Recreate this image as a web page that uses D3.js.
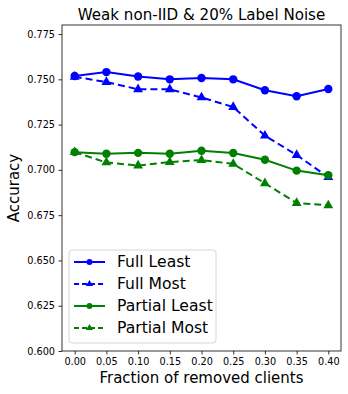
<!DOCTYPE html>
<html>
<head>
<meta charset="utf-8">
<script src="https://cdn.jsdelivr.net/npm/d3@7"></script>
<style>
  html, body { margin: 0; padding: 0; background: #fff; }
  svg { display: block; font-family: "DejaVu Sans", sans-serif; }
</style>
</head>
<body>
<svg id="chart" width="348" height="394"></svg>
<script>
// --- DATA --------------------------------------------------------------------
const fractions     = [0.00, 0.05, 0.10, 0.15, 0.20, 0.25, 0.30, 0.35, 0.40];
const fullLeast     = [0.7518, 0.7540, 0.7516, 0.7500, 0.7507, 0.7500, 0.7440, 0.7407, 0.7447];
const fullMost      = [0.7514, 0.7485, 0.7445, 0.7445, 0.7400, 0.7347, 0.7189, 0.7082, 0.6960];
const partialLeast  = [0.7098, 0.7089, 0.7094, 0.7089, 0.7106, 0.7093, 0.7056, 0.6996, 0.6970];
const partialMost   = [0.7098, 0.7041, 0.7024, 0.7043, 0.7054, 0.7033, 0.6926, 0.6817, 0.6804];
const xTicks = [0.00, 0.05, 0.10, 0.15, 0.20, 0.25, 0.30, 0.35, 0.40];
const yTicks = [0.600, 0.625, 0.650, 0.675, 0.700, 0.725, 0.750, 0.775];

const series = [
  { name: 'Full Least',    values: fullLeast,    color: '#0000ff', dash: null,  marker: 'circle' },
  { name: 'Full Most',     values: fullMost,     color: '#0000ff', dash: '7,4', marker: 'triangle' },
  { name: 'Partial Least', values: partialLeast, color: '#008000', dash: null,  marker: 'circle' },
  { name: 'Partial Most',  values: partialMost,  color: '#008000', dash: '7,4', marker: 'triangle' },
];

// --- LAYOUT ------------------------------------------------------------------
const M = { left: 62, right: 341, top: 25, bottom: 351 };
const svg = d3.select('#chart');

const x = d3.scaleLinear().domain([-0.02, 0.42]).range([M.left, M.right]);
const y = d3.scaleLinear().domain([0.6, 0.78]).range([M.bottom, M.top]);

// axes
const xAxis = svg.append('g').attr('transform', `translate(0,${M.bottom})`)
  .call(d3.axisBottom(x).tickValues(xTicks).tickFormat(d3.format('.2f')).tickSize(3.5).tickPadding(3.5));
const yAxis = svg.append('g').attr('transform', `translate(${M.left},0)`)
  .call(d3.axisLeft(y).tickValues(yTicks).tickFormat(d3.format('.3f')).tickSize(3.5).tickPadding(3.5));
[xAxis, yAxis].forEach(a => {
  a.select('.domain').remove();
  a.selectAll('line').attr('stroke', '#000').attr('stroke-width', 0.8);
  a.selectAll('text').attr('font-size', '9.7px').attr('fill', '#000')
    .attr('font-family', '"DejaVu Sans", sans-serif');
});

// frame
svg.append('rect')
  .attr('x', M.left).attr('y', M.top)
  .attr('width', M.right - M.left).attr('height', M.bottom - M.top)
  .attr('fill', 'none').attr('stroke', '#000').attr('stroke-width', 0.8);

// --- SERIES ------------------------------------------------------------------
const line = d3.line().x((d, i) => x(fractions[i])).y(d => y(d));
const tri = d3.symbol().type(d3.symbolTriangle).size(42);
const triSmall = d3.symbol().type(d3.symbolTriangle).size(22);

series.forEach(s => {
  const g = svg.append('g');
  g.append('path')
    .attr('d', line(s.values))
    .attr('fill', 'none').attr('stroke', s.color).attr('stroke-width', 2)
    .attr('stroke-dasharray', s.dash);
  const pts = g.selectAll('.pt').data(s.values).join('g')
    .attr('transform', (d, i) => `translate(${x(fractions[i])},${y(d)})`);
  if (s.marker === 'circle') pts.append('circle').attr('r', 4.2).attr('fill', s.color);
  else pts.append('path').attr('d', tri).attr('fill', s.color);
});

// --- TEXT --------------------------------------------------------------------
svg.append('text')
  .attr('x', (M.left + M.right) / 2).attr('y', 20)
  .attr('text-anchor', 'middle').attr('font-size', '15.1px')
  .text('Weak non-IID & 20% Label Noise');

svg.append('text')
  .attr('x', (M.left + M.right) / 2).attr('y', 383)
  .attr('text-anchor', 'middle').attr('font-size', '15px')
  .text('Fraction of removed clients');

svg.append('text')
  .attr('transform', `translate(19,${(M.top + M.bottom) / 2}) rotate(-90)`)
  .attr('text-anchor', 'middle').attr('font-size', '15px')
  .text('Accuracy');

// --- LEGEND ------------------------------------------------------------------
const leg = svg.append('g').attr('transform', 'translate(69,250)');
leg.append('rect')
  .attr('x', 0).attr('y', 0).attr('width', 147).attr('height', 93).attr('rx', 3)
  .attr('fill', 'rgba(255,255,255,0.8)').attr('stroke', '#cccccc').attr('stroke-width', 0.8);

const rows = leg.selectAll('.row').data(series).join('g')
  .attr('transform', (d, i) => `translate(0,${12 + i * 22})`);
rows.append('line')
  .attr('x1', 5).attr('x2', 36).attr('y1', 0).attr('y2', 0)
  .attr('stroke', d => d.color).attr('stroke-width', 2)
  .attr('stroke-dasharray', d => d.dash ? '5,3' : null);
rows.each(function (d) {
  const r = d3.select(this).append('g').attr('transform', 'translate(20.5,0)');
  if (d.marker === 'circle') r.append('circle').attr('r', 3).attr('fill', d.color);
  else r.append('path').attr('d', triSmall).attr('fill', d.color);
});
rows.append('text')
  .attr('x', 48).attr('y', 0).attr('dy', '0.35em')
  .attr('font-size', '15.6px')
  .text(d => d.name);
</script>
</body>
</html>
